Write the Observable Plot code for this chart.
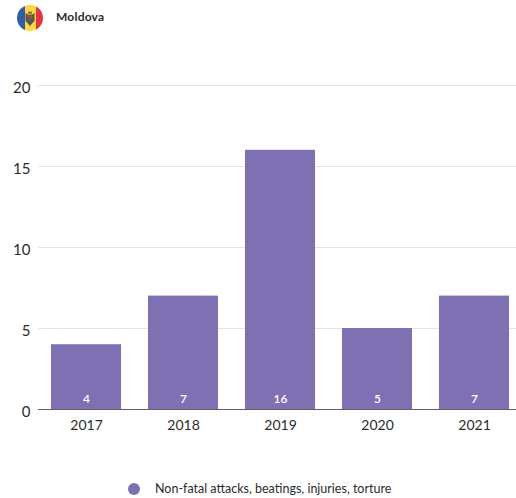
<!DOCTYPE html>
<html>
<head>
<meta charset="utf-8">
<script src="https://cdn.jsdelivr.net/npm/d3@7"></script>
<script src="https://cdn.jsdelivr.net/npm/@observablehq/plot@0.6"></script>
<style>
  html, body { margin: 0; padding: 0; background: #fff; }
  body { width: 516px; height: 498px; overflow: hidden; font-family: Lato, sans-serif; color: #2b2b2b; }
  #header { height: 35px; position: relative; }
  #header svg { position: absolute; left: 17px; top: 4.5px; }
  #header span { position: absolute; left: 56px; top: 9px; font-size: 12px; font-weight: 700; line-height: 15px; letter-spacing: .2px; }
  #chart svg { display: block; }
  #legend { position: relative; height: 40px; font-size: 12.5px; }
  #legend i { position: absolute; left: 128px; top: 25px; width: 12px; height: 12px; border-radius: 50%; }
  #legend span { position: absolute; left: 155px; top: 23px; line-height: 16px; white-space: nowrap; }
</style>
</head>
<body>
<div id="header">
  <svg width="26" height="26" viewBox="0 0 26 26">
    <defs><clipPath id="disc"><circle cx="13" cy="13" r="13"/></clipPath></defs>
    <g clip-path="url(#disc)">
      <rect x="0" y="0" width="8" height="26" fill="#2f5fa8"/>
      <rect x="8" y="0" width="11" height="26" fill="#fbd743"/>
      <rect x="19" y="0" width="7" height="26" fill="#e5343f"/>
      <path d="M8.5 8l3 2h3l3-2v8l-2 2-2.500 3-2.500-3-2-2z" fill="#5f5434"/>
      <rect x="11" y="6.500" width="4" height="3" fill="#8d7a45"/>
      <rect x="10.500" y="10.500" width="5" height="3" fill="#b04a3c"/>
      <path d="M10.500 13.500h5v1.500l-2.500 2.500-2.500-2.500z" fill="#41628f"/>
    </g>
  </svg>
  <span>Moldova</span>
</div>
<div id="chart"></div>
<div id="legend"><i></i><span></span></div>
<script>
// Yearly incident counts for Moldova
const years = ["2017", "2018", "2019", "2020", "2021"];
const incidents = [4, 7, 16, 5, 7];
const seriesName = "Non-fatal attacks, beatings, injuries, torture";
const yTicks = [0, 5, 10, 15, 20];
const barColor = "#7f70b3";

const rows = years.map((year, i) => ({year, count: incidents[i]}));

const plot = Plot.plot({
  width: 516,
  height: 423,
  marginLeft: 38,
  marginRight: 0,
  marginTop: 50,
  marginBottom: 49,
  style: {fontFamily: "Lato, sans-serif", background: "#fff", overflow: "visible"},
  x: {domain: years, range: [38, 523], paddingInner: 0.278, paddingOuter: 0.139, label: null},
  y: {domain: [0, 20], label: null},
  marks: [
    Plot.ruleY(yTicks.filter(d => d > 0), {stroke: "#e4e4e4", strokeWidth: 1}),
    Plot.barY(rows, {x: "year", y: "count", fill: barColor}),
    Plot.ruleY([0], {stroke: "#6f5a60", strokeWidth: 1.2}),
    Plot.text(rows, {x: "year", y: 0, text: d => String(d.count), dy: -10, fill: "#fff", fontSize: 12, fontWeight: 600}),
    Plot.axisY({ticks: yTicks, tickSize: 0, tickPadding: 8, dy: 2.5, fontSize: 15, color: "#2b2b2b", label: null, tickFormat: d => String(d)}),
    Plot.axisX({tickSize: 0, tickPadding: 11, fontSize: 14, color: "#2b2b2b", label: null})
  ]
});
document.getElementById("chart").append(plot);

document.querySelector("#legend i").style.background = barColor;
document.querySelector("#legend span").textContent = seriesName;
</script>
</body>
</html>
